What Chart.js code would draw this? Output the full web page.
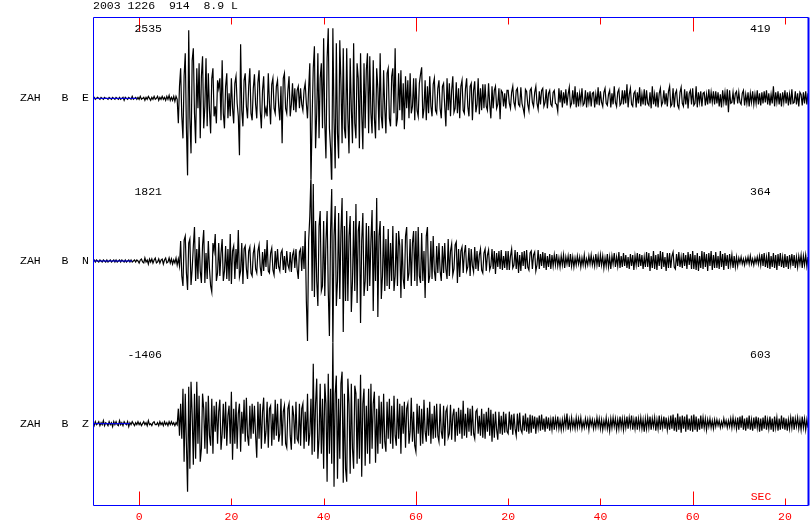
<!DOCTYPE html>
<html>
<head>
<meta charset="utf-8">
<script src="https://cdn.jsdelivr.net/npm/chart.js@4/dist/chart.umd.min.js"></script>
<style>
  html, body { margin: 0; padding: 0; background: #fff; }
  #seis { display: block; }
</style>
</head>
<body>
<canvas id="seis" width="810" height="524"></canvas>
<script>
// header line of the record
const headerText = '2003 1226  914  8.9 L';
const station = 'ZAH';
const band = 'B';
const components = ['E', 'N', 'Z'];
const leftNumbers = ['2535', '1821', '-1406'];
const rightNumbers = ['419', '364', '603'];

// time axis (seconds)
const timeMin = -10;
const timeMax = 145;
const sampleStart = -10;
const sampleStep = 0.25;
const tickValues = [0, 20, 40, 60, 80, 100, 120, 140];
const tickLabels = ['0', '20', '40', '60', '20', '40', '60', '20'];
const longTicks = [0, 60, 120];
const preEventEnd = [-0.5, -1.5, -2];

// trace amplitudes, one sample every 0.25 s (one row = 5 s)
const traceE = [
  0,1,-1,0,1,0,-1,1,0,-1,1,0,0,-1,1,0,-1,1,0,-1,
  1,0,-1,1,-1,0,1,-2,1,0,-1,1,0,-1,2,-1,0,1,-1,1,
  -1,2,-1,0,1,-2,1,-1,2,0,-2,1,-1,2,-1,0,2,-2,1,-1,
  2,-1,1,-2,2,-1,3,-2,1,-2,2,-3,2,-1,-25,12,30,-18,-40,22,
  45,-30,-77,68,-20,-55,38,50,-15,-45,30,-10,35,-40,22,42,-30,-8,40,-28,
  25,-12,-35,20,30,-18,-8,-25,18,10,20,-22,38,-15,-30,12,25,-20,5,-18,
  20,-10,-25,15,22,-5,-18,-57,54,-12,-28,18,25,-8,-20,12,30,-15,-22,10,
  24,-6,-20,16,28,-12,-30,8,22,-16,-10,-18,25,-5,-26,14,20,-10,-15,12,
  18,-8,-22,12,-45,20,25,-10,-15,8,22,-18,-6,15,-12,10,-14,8,12,-10,
  10,-6,-12,8,15,-5,-20,10,35,-85,-20,30,52,-50,-15,45,-40,20,35,-30,
  60,-25,-60,40,70,-30,-50,-89,70,-20,-70,55,-35,-60,58,15,-45,50,-30,-40,
  50,-20,-55,40,-10,-45,55,-25,-40,35,20,-50,45,-15,-51,35,-30,28,45,-35,
  42,-15,-35,38,-20,-40,30,10,-32,45,-18,-30,28,-10,-35,25,30,-20,-28,22,
  30,-15,50,-28,-20,25,-12,28,-22,15,-31,22,-10,18,-20,25,-15,-8,20,-22,
  20,-12,-18,15,24,31,-20,-10,18,-22,12,-15,22,-8,-18,14,20,-12,-15,10,
  18,-10,-20,12,15,-8,-28,20,-12,15,-18,8,22,-14,-10,16,-15,10,-20,12,
  18,-12,-15,10,20,-8,-18,12,15,-22,8,17,-14,-6,20,-16,10,-12,14,-10,
  14,-8,-12,15,-6,-20,12,-10,8,12,-10,-6,10,-21,8,6,-8,5,-10,8,
  8,-5,-10,6,12,-4,-9,8,10,-6,-8,11,-5,-10,-16,9,7,-6,-12,8,
  10,-4,-8,6,12,-5,-11,7,-6,8,10,-8,-4,9,-10,5,8,-6,-8,6,
  8,-5,-6,-13,10,-4,8,-9,6,-5,9,-7,4,11,-8,-5,8,-6,12,-9,
  6,-8,5,-4,10,-7,-5,8,-9,6,-4,7,-8,5,6,-9,4,-6,11,-7,
  7,-4,-8,6,10,-5,-7,4,8,-9,5,-6,12,-4,-8,6,9,-7,-5,8,
  -6,8,-5,14,-9,4,10,-6,-8,5,7,-9,6,-5,11,-8,4,-6,9,-7,
  8,-5,-7,6,-10,12,-6,4,-8,6,-9,5,10,-7,-4,8,-6,5,-8,7,
  12,-8,-6,10,-9,5,8,-7,-10,6,11,-5,-8,9,-6,7,-10,5,8,-6,
  10,-7,-5,12,-9,6,-4,7,-8,5,6,-7,4,-6,9,-5,6,-4,7,-6,
  7,-5,6,-8,4,-9,8,-4,6,-7,9,-14,8,-5,-4,6,-6,5,7,-5,
  6,-4,-6,5,8,-7,4,-5,6,-8,5,-4,7,-6,4,-5,8,-6,5,-7,
  6,-5,7,-4,8,-6,5,-7,4,-5,12,-8,6,-4,7,-6,5,-8,6,-4,
  8,-5,6,-7,4,-6,9,-5,-4,7,-6,5,-8,6,4,-7,6,-5,7,-6,
  5
];

const traceN = [
  0,1,-1,1,0,-1,1,0,-1,1,0,-1,1,-1,0,1,-1,0,1,-1,
  1,-1,0,1,-1,1,0,-1,1,-1,0,1,-1,1,-1,0,1,-1,1,0,
  -2,1,2,-1,-2,3,-1,1,-3,2,-1,2,-2,1,3,-2,-1,2,-2,1,
  2,-3,1,3,-2,-1,3,-2,2,-3,1,-2,3,-4,2,-5,20,-15,-25,21,
  25,-12,-29,18,22,-24,-8,15,34,-20,12,-18,24,-10,-22,16,31,-22,8,-18,
  20,-8,-25,-31,18,10,27,-20,-12,18,-15,8,22,-20,-10,15,-18,12,-20,27,
  -23,10,15,-18,12,-8,31,-16,-10,18,-23,12,15,-8,-18,10,14,-12,-15,8,
  14,-8,-12,10,16,-6,-15,9,-10,12,-6,21,-10,-12,8,13,-9,-14,10,-8,
  12,-6,-10,8,11,-9,5,-12,10,-4,-8,9,-11,6,10,-7,12,-8,-18,9,
  12,-10,15,-8,30,-40,-80,20,45,87,-30,77,-36,40,-20,-45,35,50,-30,-25,
  40,-35,20,50,-30,-75,30,72,-86,25,55,-45,-20,48,-38,30,63,-71,35,-40,
  50,-40,25,45,-51,-20,40,-30,57,-42,30,40,-62,20,48,-35,-20,38,-30,35,
  -25,20,51,-50,30,-20,63,-56,25,40,-38,-15,35,-30,22,-25,32,-28,18,-20,
  35,-30,-15,28,-25,30,15,-37,22,-18,-28,25,34,-20,-12,22,-25,18,30,-20,
  30,-25,34,-15,-22,28,-20,10,-37,25,34,-22,-15,20,-18,25,-10,-20,15,-12,
  18,-10,-20,15,-12,18,-8,-18,22,-15,10,17,-14,-8,16,19,-22,12,-16,10,
  14,-12,8,16,-10,-6,13,-15,12,-5,-11,14,-8,10,-10,6,12,-9,-12,8,
  12,-10,6,11,-9,-5,12,-8,10,-13,8,-6,10,-8,11,-9,5,-7,10,-9,
  10,-9,5,12,-7,-4,11,-8,9,-12,6,-10,9,-5,10,-8,11,-6,-9,8,
  10,-8,6,9,-10,-4,11,-8,7,-5,9,-7,8,-9,5,-6,7,-8,6,-5,
  6,-4,7,-5,3,-6,5,-4,6,-7,4,-3,5,-6,7,-5,4,-6,3,-4,
  5,-3,4,-6,3,-4,6,-5,2,-4,5,-3,6,-4,3,-5,7,-4,5,-6,
  6,-4,5,-7,3,-5,7,-6,4,-8,5,-3,8,-6,4,-5,9,-7,5,-6,
  8,-5,6,-7,4,-8,7,-5,6,-9,5,-4,8,-6,7,-5,6,-8,4,-6,
  9,-6,8,-10,5,-7,10,-8,6,-9,7,-5,10,-8,9,-6,4,-10,8,-7,
  8,-7,5,9,-6,-8,7,-5,9,-6,4,-7,8,-5,6,-8,9,-4,7,-8,
  10,-8,6,-9,8,-10,5,-7,10,-8,9,-6,7,-10,8,-5,10,-9,6,-7,
  9,-7,5,-8,10,-6,7,-9,8,-5,6,-8,7,-4,6,-7,5,-6,4,-5,
  3,-2,4,-3,2,-4,3,-2,4,-3,5,-3,2,-4,3,-2,4,-3,5,-4,
  7,-5,8,-6,4,-7,9,-8,5,-6,8,-7,6,-9,7,-5,8,-6,4,-7,
  7,-6,5,-8,6,-4,7,-5,6,-7,4,-6,5,-3,6,-7,5,-4,6,-5,
  4
];

const traceZ = [
  1,-2,2,-1,0,2,-2,1,-1,3,-2,1,0,-2,2,-1,1,-3,2,-1,
  2,-1,-2,3,-1,1,-2,2,0,-1,2,-3,1,-1,2,0,-2,1,-1,2,
  -1,1,-2,0,2,-1,1,-2,3,-1,0,-2,1,2,-1,-1,1,-2,2,-1,
  1,-2,2,-1,1,-2,2,-1,2,-1,1,-2,1,-1,15,-12,20,-15,35,-38,
  30,-20,-68,37,-45,42,10,-41,30,-35,42,-20,28,-38,-25,30,15,-25,22,-30,
  28,-12,-22,25,-30,18,-8,22,-20,12,24,-26,-10,20,-15,22,-22,8,18,-20,
  32,-36,15,-20,22,-25,10,20,-28,12,-10,24,-18,26,-12,-22,18,-15,20,-10,
  18,-12,-34,22,-15,20,-25,12,26,-20,-8,22,-24,15,18,-22,10,-16,24,-12,
  20,-18,-10,25,-22,12,18,-20,-24,15,20,-12,-26,18,8,-20,22,-15,-18,20,
  -22,15,20,-25,12,-18,30,-22,-10,25,-31,60,-28,20,45,-35,-15,40,-30,25,
  -45,40,20,-58,50,-30,35,-40,85,-63,30,48,-55,25,-35,40,52,-59,30,-45,
  -58,45,20,-50,40,-25,-45,38,30,-40,25,-35,49,-53,20,35,-42,18,-30,35,
  -40,40,-25,20,32,-39,15,-30,28,-20,22,-25,30,-18,-28,22,-15,25,-20,18,
  -25,28,-12,-22,25,-15,20,-30,18,-10,22,-24,15,20,-20,-8,26,-18,12,-22,
  -28,20,-10,18,-22,15,-20,24,-8,-18,16,-12,22,-20,10,-15,18,-14,20,-12,
  -18,20,-8,-15,18,-22,12,16,-14,-10,19,-16,8,15,-18,12,-12,16,-10,14,
  -15,23,-12,10,-14,16,-8,15,-12,18,-10,-15,12,14,-10,8,-12,15,-14,10,
  -15,12,-8,16,-12,14,-18,10,-14,12,-6,-16,12,-10,8,-11,12,-9,10,-8,
  -10,12,-6,9,-11,10,-5,-12,10,-8,11,-6,-9,8,-7,10,-8,6,-10,9,
  -9,8,-5,7,-10,6,-4,8,-7,9,-6,5,-8,7,-5,6,-7,4,-6,7,
  -6,5,-4,7,-5,3,-6,4,-5,6,-3,10,-6,4,-5,6,-4,3,-5,6,
  -4,5,-3,6,-5,2,-4,5,-3,4,-6,5,-2,4,-5,3,-4,6,-3,5,
  -5,4,-6,3,-4,6,-5,3,-7,5,-4,6,-3,5,-6,4,-5,7,-4,5,
  -6,5,-4,7,-5,6,-3,8,-6,4,-5,7,-6,5,-4,6,-5,4,-8,5,
  -5,6,-4,7,-6,5,-3,6,-7,4,-5,8,-6,5,-4,7,-5,6,-6,4,
  -6,8,-5,9,-7,6,-8,10,-6,7,-9,8,-5,7,-8,9,-6,5,-7,8,
  -8,9,-6,7,-8,5,-6,8,-5,6,-4,5,-6,4,-3,5,-4,3,-5,4,
  -3,4,-2,3,-4,2,-3,5,-2,3,-4,3,-3,5,-4,6,-3,4,-5,6,
  -6,7,-4,8,-6,5,-7,6,-5,8,-6,4,-7,6,-5,7,-4,6,-8,5,
  -7,6,-5,8,-6,4,-5,7,-6,5,-8,7,-4,6,-7,5,-6,8,-5,6,
  -6,5,-7,4,-5,6,-4,7,-6,5,-3,6,-5,4,-6,7,-4,5,-6,4,
  -4
];

const traces = [traceE, traceN, traceZ];
const axisIds = ['yE', 'yN', 'yZ'];

function toPoints(amps) {
  return amps.map((a, i) => ({ x: sampleStart + i * sampleStep, y: a }));
}

const monoFont = "11.5px 'Liberation Mono', 'DejaVu Sans Mono', monospace";

// frame, time ticks and text labels
const seisDecor = {
  id: 'seisDecor',
  afterDatasetsDraw(chart) {
    const ctx = chart.ctx;
    const area = chart.chartArea;
    const xs = chart.scales.x;
    const left = Math.round(area.left) + 0.5;
    const right = Math.round(area.right) + 0.5;
    const top = Math.round(area.top) + 0.5;
    const bottom = Math.round(area.bottom) + 0.5;

    ctx.save();
    // red 20 s ticks on top and bottom edge
    ctx.strokeStyle = '#ff0000';
    ctx.lineWidth = 1;
    tickValues.forEach(v => {
      const px = Math.round(xs.getPixelForValue(v)) + 0.5;
      const len = longTicks.includes(v) ? 14 : 7;
      ctx.beginPath();
      ctx.moveTo(px, top);
      ctx.lineTo(px, top + len);
      ctx.moveTo(px, bottom);
      ctx.lineTo(px, bottom - len);
      ctx.stroke();
    });

    // blue frame
    ctx.strokeStyle = '#0000ff';
    ctx.beginPath();
    ctx.moveTo(left, top);
    ctx.lineTo(right, top);
    ctx.moveTo(left, top);
    ctx.lineTo(left, bottom);
    ctx.moveTo(left, bottom);
    ctx.lineTo(right, bottom);
    ctx.stroke();
    ctx.lineWidth = 2;
    ctx.beginPath();
    ctx.moveTo(right, top);
    ctx.lineTo(right, bottom);
    ctx.stroke();

    ctx.font = monoFont;
    ctx.textBaseline = 'middle';

    // time labels
    ctx.fillStyle = '#ff0000';
    ctx.textAlign = 'center';
    tickValues.forEach((v, i) => {
      ctx.fillText(tickLabels[i], xs.getPixelForValue(v), area.bottom + 12);
    });
    ctx.fillText('SEC', area.right - 47, area.bottom - 8);

    // header
    ctx.fillStyle = '#000';
    ctx.textAlign = 'left';
    ctx.fillText(headerText, area.left, 6);

    // trace labels and amplitude numbers
    components.forEach((c, i) => {
      const ys = chart.scales[axisIds[i]];
      const base = ys.getPixelForValue(0);
      ctx.textAlign = 'left';
      ctx.fillText(station + '   ' + band + '  ' + c, 20, base);
      ctx.textAlign = 'right';
      ctx.fillText(leftNumbers[i], 162, base - 69);
      ctx.textAlign = 'left';
      ctx.fillText(rightNumbers[i], 750, base - 69);
    });
    ctx.restore();
  }
};

const datasets = [];
traces.forEach((tr, i) => {
  datasets.push({
    label: station + ' ' + components[i],
    data: toPoints(tr),
    yAxisID: axisIds[i],
    borderColor: '#000',
    borderWidth: 1.2,
    pointRadius: 0,
    tension: 0,
    order: 1
  });
});
// blue pre-event baseline, drawn over the noise
preEventEnd.forEach((t, i) => {
  datasets.push({
    label: 'pre ' + components[i],
    data: [{ x: timeMin, y: 0 }, { x: t, y: 0 }],
    yAxisID: axisIds[i],
    borderColor: '#0000ff',
    borderWidth: 1,
    pointRadius: 0,
    order: 0
  });
});

const yBase = { type: 'linear', position: 'left', stack: 'traces', stackWeight: 1, min: -81.3, max: 81.3, display: false };

new Chart(document.getElementById('seis').getContext('2d'), {
  type: 'line',
  data: { datasets: datasets },
  options: {
    responsive: false,
    animation: false,
    parsing: false,
    normalized: true,
    layout: { padding: { left: 93, top: 17, right: 2, bottom: 19 } },
    plugins: { legend: { display: false }, tooltip: { enabled: false } },
    scales: {
      x: { type: 'linear', min: timeMin, max: timeMax, display: false },
      yZ: Object.assign({}, yBase),
      yN: Object.assign({}, yBase),
      yE: Object.assign({}, yBase)
    }
  },
  plugins: [seisDecor]
});
</script>
</body>
</html>
